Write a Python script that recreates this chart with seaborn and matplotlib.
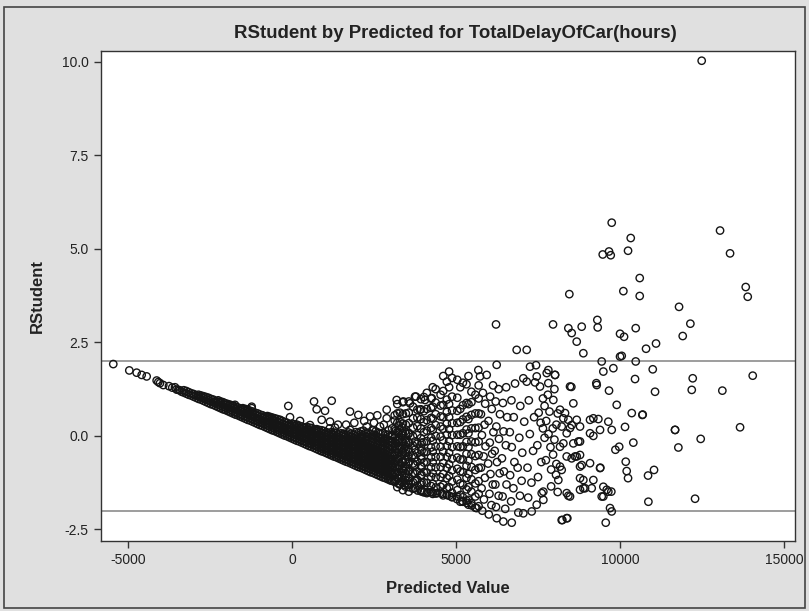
import matplotlib
matplotlib.use("Agg")
import matplotlib.pyplot as plt
import seaborn as sns
import pandas as pd
from matplotlib.patches import Rectangle

# ---------------- data ----------------
# sparse left tail
tail_x = [-5449, -4960, -4736, -4583, -4431, -4126, -4075, -4025, -3924, -3750,
          -3650, -3567, -3520, -3467, -3420, -3363]
tail_y = [1.92, 1.75, 1.69, 1.63, 1.59, 1.48, 1.44, 1.41, 1.36, 1.33,
          1.29, 1.30, 1.24, 1.23, 1.22, 1.18]

# dense diagonal band: column x -> list of RStudent values
core_cols = [-3300, -3150, -3000, -2850, -2700, -2550, -2400, -2250, -2100, -1950,
             -1800, -1650, -1500, -1350, -1200, -1050, -900, -750, -600, -450,
             -300, -150, 0, 150, 300, 450, 600, 750, 900, 1050,
             1200, 1350, 1500, 1650, 1800, 1950, 2100, 2250, 2400, 2550,
             2700, 2850, 3000]
core_vals = [
    [1.16, 1.22], [1.10, 1.17], [1.05, 1.12], [0.99, 1.06, 1.10], [0.94, 1.01, 1.06],
    [0.88, 0.95, 1.02], [0.83, 0.90, 0.97], [0.77, 0.84, 0.91, 0.95], [0.71, 0.78, 0.85, 0.90],
    [0.66, 0.73, 0.80, 0.85], [0.60, 0.67, 0.74, 0.81], [0.55, 0.62, 0.69, 0.76],
    [0.49, 0.56, 0.63, 0.70, 0.74], [0.43, 0.50, 0.57, 0.64, 0.70], [0.38, 0.45, 0.52, 0.59, 0.65],
    [0.32, 0.39, 0.46, 0.53, 0.60], [0.27, 0.34, 0.41, 0.48, 0.55],
    [0.21, 0.28, 0.35, 0.42, 0.49, 0.53], [0.15, 0.22, 0.29, 0.36, 0.43, 0.49],
    [0.10, 0.17, 0.24, 0.31, 0.38, 0.45], [0.04, 0.11, 0.18, 0.25, 0.32, 0.40],
    [-0.01, 0.06, 0.13, 0.20, 0.27, 0.35],
    [-0.07, 0.00, 0.07, 0.14, 0.21, 0.28, 0.33],
    [-0.13, -0.06, 0.01, 0.08, 0.15, 0.22, 0.30],
    [-0.18, -0.11, -0.04, 0.03, 0.10, 0.17, 0.25],
    [-0.24, -0.17, -0.10, -0.03, 0.04, 0.11, 0.18, 0.24],
    [-0.29, -0.22, -0.15, -0.08, -0.01, 0.06, 0.13, 0.21],
    [-0.35, -0.28, -0.21, -0.14, -0.07, 0.00, 0.07, 0.14, 0.18],
    [-0.41, -0.34, -0.27, -0.20, -0.13, -0.06, 0.01, 0.08, 0.15],
    [-0.46, -0.39, -0.32, -0.25, -0.18, -0.11, -0.04, 0.03, 0.10],
    [-0.52, -0.45, -0.38, -0.31, -0.24, -0.17, -0.10, -0.03, 0.04, 0.10],
    [-0.57, -0.50, -0.43, -0.36, -0.29, -0.22, -0.15, -0.08, -0.01, 0.08],
    [-0.63, -0.56, -0.49, -0.42, -0.35, -0.28, -0.21, -0.14, -0.07, 0.00, 0.07],
    [-0.69, -0.62, -0.55, -0.48, -0.41, -0.34, -0.27, -0.20, -0.13, -0.06, 0.04],
    [-0.74, -0.67, -0.60, -0.53, -0.46, -0.39, -0.32, -0.25, -0.18, -0.11, -0.03, 0.06],
    [-0.80, -0.73, -0.66, -0.59, -0.52, -0.45, -0.38, -0.31, -0.24, -0.17, -0.10, -0.01, 0.10],
    [-0.85, -0.78, -0.71, -0.64, -0.57, -0.50, -0.43, -0.36, -0.29, -0.22, -0.15, -0.06, 0.04, 0.12],
    [-0.91, -0.84, -0.77, -0.70, -0.63, -0.56, -0.49, -0.42, -0.35, -0.28, -0.20, -0.11, -0.02, 0.09],
    [-0.97, -0.89, -0.81, -0.73, -0.65, -0.57, -0.49, -0.41, -0.33, -0.25, -0.16, -0.06, 0.05],
    [-1.02, -0.94, -0.86, -0.78, -0.70, -0.62, -0.54, -0.46, -0.38, -0.30, -0.21, -0.11, 0.00, 0.12],
    [-1.08, -1.00, -0.92, -0.84, -0.76, -0.68, -0.60, -0.52, -0.44, -0.36, -0.27, -0.17, -0.06, 0.06],
    [-1.13, -1.05, -0.97, -0.89, -0.81, -0.73, -0.65, -0.57, -0.49, -0.40, -0.30, -0.19, -0.08, 0.04],
    [-1.19, -1.11, -1.03, -0.95, -0.87, -0.79, -0.71, -0.63, -0.55, -0.46, -0.36, -0.25, -0.13, 0.00],
]

# band points lying between the columns above
core2_cols = [-3225, -3075, -2925, -2775, -2625, -2475, -2325, -2175, -2025, -1875,
              -1725, -1575, -1425, -1275, -1125, -975, -825, -675, -525, -375,
              -225, -75, 75, 225, 375, 525, 675, 825, 975, 1125,
              1275, 1425, 1575, 1725, 1875, 2025, 2175, 2325, 2475, 2625,
              2775, 2925]
core2_vals = [
    [1.13, 1.20], [1.08, 1.14], [1.02, 1.09], [0.97, 1.04, 1.08], [0.91, 0.98, 1.04],
    [0.85, 0.92, 0.99], [0.80, 0.87, 0.93], [0.74, 0.81, 0.88, 0.92], [0.69, 0.76, 0.83, 0.87],
    [0.63, 0.70, 0.77, 0.83], [0.57, 0.64, 0.71, 0.78], [0.52, 0.59, 0.66, 0.73],
    [0.46, 0.53, 0.60, 0.67, 0.72], [0.41, 0.48, 0.55, 0.62, 0.67], [0.35, 0.42, 0.49, 0.56, 0.62],
    [0.29, 0.36, 0.43, 0.50, 0.57], [0.24, 0.31, 0.38, 0.45, 0.52],
    [0.18, 0.25, 0.32, 0.39, 0.46, 0.51], [0.13, 0.20, 0.27, 0.34, 0.41, 0.47],
    [0.07, 0.14, 0.21, 0.28, 0.35, 0.42], [0.01, 0.08, 0.15, 0.22, 0.29, 0.37],
    [-0.04, 0.03, 0.10, 0.17, 0.24, 0.31],
    [-0.10, -0.03, 0.04, 0.11, 0.18, 0.25, 0.31],
    [-0.15, -0.08, -0.01, 0.06, 0.13, 0.20, 0.27],
    [-0.21, -0.14, -0.07, 0.00, 0.07, 0.14, 0.21],
    [-0.27, -0.20, -0.13, -0.06, 0.01, 0.08, 0.15, 0.22],
    [-0.32, -0.25, -0.18, -0.11, -0.04, 0.03, 0.10, 0.17],
    [-0.38, -0.31, -0.24, -0.17, -0.10, -0.03, 0.04, 0.11, 0.16],
    [-0.43, -0.36, -0.29, -0.22, -0.15, -0.08, -0.01, 0.06, 0.13],
    [-0.49, -0.42, -0.35, -0.28, -0.21, -0.14, -0.07, 0.00, 0.07],
    [-0.55, -0.48, -0.41, -0.34, -0.27, -0.20, -0.13, -0.06, 0.01, 0.09],
    [-0.60, -0.53, -0.46, -0.39, -0.32, -0.25, -0.18, -0.11, -0.04, 0.04],
    [-0.66, -0.59, -0.52, -0.45, -0.38, -0.31, -0.24, -0.17, -0.10, -0.03, 0.06],
    [-0.71, -0.64, -0.57, -0.50, -0.43, -0.36, -0.29, -0.22, -0.15, -0.08, 0.01, 0.09],
    [-0.77, -0.70, -0.63, -0.56, -0.49, -0.42, -0.35, -0.28, -0.21, -0.14, -0.06, 0.04],
    [-0.83, -0.76, -0.69, -0.62, -0.55, -0.48, -0.41, -0.34, -0.27, -0.20, -0.12, -0.03, 0.08],
    [-0.88, -0.81, -0.74, -0.67, -0.60, -0.53, -0.46, -0.39, -0.32, -0.25, -0.17, -0.08, 0.02, 0.14],
    [-0.94, -0.86, -0.78, -0.70, -0.62, -0.54, -0.46, -0.38, -0.30, -0.22, -0.13, -0.03, 0.08],
    [-0.99, -0.91, -0.83, -0.75, -0.67, -0.59, -0.51, -0.43, -0.35, -0.27, -0.18, -0.08, 0.03, 0.15],
    [-1.05, -0.97, -0.89, -0.81, -0.73, -0.65, -0.57, -0.49, -0.41, -0.33, -0.24, -0.14, -0.03, 0.09],
    [-1.11, -1.03, -0.95, -0.87, -0.79, -0.71, -0.63, -0.55, -0.47, -0.38, -0.28, -0.17, -0.05, 0.08],
    [-1.16, -1.08, -1.00, -0.92, -0.84, -0.76, -0.68, -0.60, -0.52, -0.43, -0.33, -0.22, -0.10, 0.03],
]

# where the band opens into the fan
trans_cols = [3050, 3150, 3250, 3350, 3450, 3550, 3750, 3950]
trans_vals = [
    [-1.20, -1.06, -0.92, -0.77, -0.62, -0.47, -0.31, -0.15, 0.02, 0.20],
    [-1.17, -1.00, -0.84, -0.68, -0.52, -0.36, -0.20, -0.04, 0.13],
    [-1.28, -1.13, -0.96, -0.79, -0.62, -0.45, -0.28, -0.11, 0.08, 0.28],
    [-1.24, -1.06, -0.88, -0.70, -0.52, -0.34, -0.16, 0.03, 0.22],
    [-1.35, -1.18, -1.00, -0.82, -0.64, -0.46, -0.28, -0.09, 0.12],
    [-1.30, -1.12, -0.93, -0.74, -0.55, -0.36, -0.16, 0.05],
    [-1.40, -1.20, -1.00, -0.79, -0.58, -0.37, -0.15],
    [-1.45, -1.25, -1.04, -0.83, -0.62, -0.40, -0.18],
]

# lower edge of the fan
edge_x = [3120, 3280, 3420, 3560, 3690, 3830, 3980, 4130, 4280, 4430,
          4580, 4730, 4880, 5030, 5180, 5330, 5480, 5630]
edge_y = [-1.21, -1.27, -1.31, -1.37, -1.41, -1.46, -1.49, -1.50, -1.51, -1.53,
          -1.55, -1.58, -1.63, -1.69, -1.74, -1.79, -1.86, -1.93]

# loose points above the band
fuzz_x = [-1789, -1738, -1229, -1229, -619, -366, -113, -61, 671, 753,
          1006, 1210, 905, 1159, 549, 244, 1311, 1768, 2022, 2378,
          2887, 2887, 1768, 1565, 2276, 2124, 2683, 3191, 3394, 3750,
          3598, 3903, 1650, 1900, 2200, 2500, 2800, 2600, 1400, 1150,
          2450, 2950, 4055, 4260, 3781]
fuzz_y = [0.80, 0.83, 0.78, 0.74, 0.47, 0.43, 0.80, 0.50, 0.92, 0.71,
          0.67, 0.94, 0.43, 0.38, 0.29, 0.40, 0.22, 0.65, 0.56, 0.52,
          0.70, 0.47, 0.16, 0.03, 0.25, -0.02, 0.25, 0.96, 0.92, 1.05,
          0.87, 0.70, 0.30, 0.35, 0.40, 0.35, 0.30, 0.55, 0.30, 0.20,
          0.15, 0.15, 0.96, 1.01, 1.05]

# fan of residuals, dense part (one list of values per x position)
fan_cols = [3130, 3470, 3290, 3820, 3210, 3690, 3380, 3930, 3560, 4240,
            4020, 4530, 4110, 4380, 4290, 4720, 4610, 5040, 4790, 4880,
            5320, 5130, 5470, 5210, 5690, 5380, 5590]
fan_vals = [
    [-1.23, -1.01, -0.74, -0.52, -0.27, -0.05, 0.18, 0.41, 0.55],
    [-1.26, -1.11, -0.88, -0.63, -0.40, -0.16, 0.06, 0.30, 0.60],
    [-1.30, -1.05, -0.81, -0.57, -0.33, -0.10, 0.14, 0.37, 0.62],
    [-1.33, -1.17, -0.95, -0.69, -0.46, -0.21, 0.02, 0.26, 0.49, 0.70],
    [-1.37, -1.12, -0.87, -0.60, -0.36, -0.13, 0.11, 0.35, 0.60, 0.85],
    [-1.41, -1.24, -0.99, -0.74, -0.51, -0.26, -0.01, 0.22, 0.47, 0.78],
    [-1.45, -1.19, -0.93, -0.68, -0.42, -0.18, 0.07, 0.33, 0.58, 0.90],
    [-1.48, -1.30, -1.06, -0.80, -0.55, -0.31, -0.06, 0.20, 0.45, 0.71, 0.98],
    [-1.49, -1.20, -0.95, -0.69, -0.43, -0.19, 0.08, 0.34, 0.62, 0.92],
    [-1.50, -1.34, -1.09, -0.84, -0.57, -0.31, -0.05, 0.21, 0.48, 0.75, 1.00],
    [-1.51, -1.24, -0.97, -0.71, -0.44, -0.17, 0.10, 0.37, 0.66, 1.04],
    [-1.52, -1.36, -1.10, -0.83, -0.56, -0.29, -0.02, 0.25, 0.52, 0.81, 1.10],
    [-1.53, -1.26, -0.98, -0.70, -0.42, -0.14, 0.14, 0.42, 0.72, 1.15],
    [-1.54, -1.38, -1.11, -0.84, -0.56, -0.28, 0.00, 0.29, 0.58, 0.89, 1.25],
    [-1.55, -1.28, -1.00, -0.71, -0.42, -0.13, 0.16, 0.46, 0.78, 1.30],
    [-1.57, -1.40, -1.13, -0.85, -0.56, -0.27, 0.03, 0.33, 0.64, 0.97, 1.45],
    [-1.59, -1.31, -1.02, -0.72, -0.42, -0.12, 0.19, 0.50, 0.83, 1.20, 1.60],
    [-1.62, -1.45, -1.17, -0.88, -0.58, -0.28, 0.03, 0.35, 0.67, 1.02, 1.50],
    [-1.60, -1.37, -1.07, -0.76, -0.45, -0.14, 0.18, 0.50, 0.85, 1.30, 1.72],
    [-1.64, -1.52, -1.22, -0.92, -0.61, -0.30, 0.02, 0.34, 0.68, 1.05, 1.55],
    [-1.73, -1.43, -1.12, -0.80, -0.48, -0.16, 0.17, 0.51, 0.88, 1.38],
    [-1.76, -1.58, -1.27, -0.95, -0.63, -0.30, 0.03, 0.37, 0.72, 1.30],
    [-1.80, -1.49, -1.16, -0.83, -0.49, -0.15, 0.20, 0.56, 0.90, 1.18],
    [-1.76, -1.64, -1.31, -0.97, -0.63, -0.28, 0.07, 0.44, 0.82, 1.42],
    [-1.88, -1.55, -1.21, -0.86, -0.51, -0.15, 0.22, 0.60, 1.00, 1.35],
    [-1.84, -1.71, -1.37, -1.02, -0.66, -0.30, 0.07, 0.45, 0.85, 1.60],
    [-1.92, -1.62, -1.27, -0.91, -0.54, -0.17, 0.21, 0.60, 1.10],
]

# individual points, right part of the chart
pts_x = [5800, 5850, 5780, 5880, 5760, 5840, 5900, 5790, 5870, 5760, 5890, 5820, 5732, 5681, 5936,
         6000, 6080, 6020, 6120, 6050, 5980, 6100, 6030, 6140, 5990, 6090, 6040, 6130,
         6241, 6220, 6300, 6200, 6330, 6250, 6180, 6310, 6230, 6340, 6210, 6300, 6240, 6220,
         6443, 6500, 6420, 6540, 6460, 6400, 6520, 6450, 6560, 6430, 6530,
         6699, 6680, 6750, 6650, 6780, 6700, 6640, 6760, 6690, 6800,
         6900, 7052, 6950, 7000, 6880, 7020, 6930, 7080, 6960, 7052, 7156, 6850, 7156,
         7308, 7200, 7300, 7180, 7350, 7250, 7380, 7220, 7257, 7409,
         7461, 7662, 7500, 7600, 7480, 7650, 7520, 7461, 7561, 7613, 7440,
         7700, 7750, 7820, 7880, 7740, 7900, 7960, 8000, 8060, 8100, 7850, 7700, 7650, 7800,
         8000, 7900, 8100, 8060, 7950, 7580, 7766, 7815, 7815, 7967, 8019, 8049, 8120, 7663,
         8171, 8171, 8171, 8222, 8222, 8222, 8273, 8273, 8324, 8375, 8375, 8375, 8375,
         8425, 8425, 8476, 8476, 8476, 8527, 8527, 8577, 8577, 8629, 8680, 8680, 8730,
         8781, 8781, 8781, 8781, 8781, 8781, 8832, 8882, 8882, 8934, 9086, 9086, 9086,
         9137, 9187, 9187, 9187, 9290, 9340, 9391, 9391, 9442, 9492, 9492, 9595, 9644,
         9644, 9696, 9747, 9565, 9747, 9900, 9860, 9975, 10406, 10153, 10358, 10681,
         10175, 10204, 10245, 9400, 10855, 11037, 10865, 9735, 8242, 8394, 11678, 11779,
         12460, 12288, 13660, 8516, 9278, 9665, 11068, 10458, 10998, 12187, 13120,
         12217, 14046, 9442, 9797, 10001, 10052, 9492, 10479, 10794, 11098, 8882, 8019,
         7958, 8455, 8425, 8527, 8680, 8832, 9309, 9320, 10001, 10123, 10479,
         9747, 10327, 9473, 9665, 9717, 10245, 10601, 10102, 10601, 11800, 12145, 11912,
         12490, 13050, 13355, 13833, 13894, 10692, 11678]
pts_y = [-2.00, -1.70, -1.40, -1.12, -0.85, -0.55, -0.28, 0.02, 0.30, 0.58, 0.86, 1.15, 1.59, 1.76, 1.63,
         -2.10, -1.85, -1.55, -1.30, -1.02, -0.74, -0.48, -0.18, 0.10, 0.40, 0.72, 1.05, 1.35,
         -2.20, -1.90, -1.60, -1.30, -1.00, -0.70, -0.40, -0.08, 0.25, 0.58, 0.92, 1.25, 1.90, 2.98,
         -2.29, -1.95, -1.62, -1.30, -0.95, -0.60, -0.25, 0.12, 0.50, 0.88, 1.30,
         -2.32, -1.75, -1.40, -1.05, -0.70, -0.30, 0.10, 0.50, 0.95, 1.40,
         -2.05, -2.07, -1.60, -1.20, -0.85, -0.45, -0.05, 0.38, 0.80, 1.54, 1.45, 2.30, 2.30,
         -2.02, -1.65, -1.25, -0.85, -0.40, 0.05, 0.50, 0.95, 1.85, 1.43,
         -1.84, -1.49, -1.10, -0.70, -0.25, 0.20, 0.62, 1.59, 1.32, -1.53, 1.89,
         0.80, 0.40, 0.05, -0.30, -0.65, -0.90, -0.50, -0.10, 0.30, 0.60, 0.65, -0.05, 1.00, 1.10,
         1.25, -1.35, -1.50, -0.75, 0.20, 0.35, 1.68, 1.76, 1.41, 0.96, 1.63, -1.04, -1.18, -1.71,
         0.70, -0.29, -0.82, 0.25, -0.91, -2.25, 0.47, -0.20, 0.61, 0.07, -0.55, -1.53, -2.20,
         0.43, -1.60, 0.21, 1.32, -1.62, 0.29, -0.60, 0.87, -0.20, -0.55, 0.43, -0.55, -0.15,
         0.25, -0.15, -0.51, -0.82, -1.13, -1.44, -0.78, -1.18, -1.40, -1.40, 0.43, 0.07, -0.73,
         -1.40, 0.47, 0.00, -1.18, 1.36, 0.45, 0.16, -0.86, -1.62, -1.36, -1.62, -1.44, -1.49,
         0.38, -1.93, -2.02, -2.32, 0.16, 0.83, -0.37, -0.29, -0.18, 0.24, 0.61, 0.56,
         -0.69, -0.94, -1.13, -0.85, -1.06, -0.91, -1.76, -1.49, -2.25, -2.20, 0.16, -0.31,
         -0.08, -1.68, 0.23, 1.31, 1.41, 1.21, 1.18, 1.52, 1.78, 1.23, 1.21,
         1.54, 1.61, 1.99, 1.81, 2.12, 2.14, 1.72, 1.99, 2.33, 2.47, 2.21, 1.63,
         2.98, 3.79, 2.88, 2.75, 2.52, 2.92, 3.10, 2.90, 2.73, 2.65, 2.88,
         5.70, 5.29, 4.85, 4.93, 4.83, 4.95, 4.22, 3.87, 3.74, 3.45, 3.00, 2.67,
         10.03, 5.49, 4.88, 3.98, 3.72, 0.57, 0.16]

ref_levels = [-2.0, 2.0]
x_ticks = [-5000, 0, 5000, 10000, 15000]
y_ticks = [-2.5, 0.0, 2.5, 5.0, 7.5, 10.0]
y_ticklabels = ["-2.5", "0.0", "2.5", "5.0", "7.5", "10.0"]
title = "RStudent by Predicted for TotalDelayOfCar(hours)"
xlabel = "Predicted Value"
ylabel = "RStudent"

# ---------------- assemble table ----------------
xs, ys = [], []
xs += tail_x; ys += tail_y
for cols, vals_list in ((core_cols, core_vals), (core2_cols, core2_vals),
                        (trans_cols, trans_vals), (fan_cols, fan_vals)):
    for cx, vals in zip(cols, vals_list):
        xs += [cx] * len(vals); ys += vals
xs += edge_x; ys += edge_y
xs += fuzz_x; ys += fuzz_y
xs += pts_x; ys += pts_y
df = pd.DataFrame({"pred": xs, "rstudent": ys})

# ---------------- plot ----------------
sns.set_style("white")
plt.rcParams["font.family"] = ["Liberation Sans", "DejaVu Sans"]

BG = "#e0e0e0"
fig = plt.figure(figsize=(8.09, 6.11), dpi=100, facecolor=BG)
ax = fig.add_axes([101 / 809, 1 - 541 / 611, (795 - 101) / 809, (541 - 51) / 611])
ax.set_facecolor("white")

for lv in ref_levels:
    ax.axhline(lv, color="#8c8c8c", lw=1.2, zorder=1)

sns.scatterplot(data=df, x="pred", y="rstudent", ax=ax, marker="o", s=28,
                color="#151515", linewidth=1.0, zorder=3, legend=False)
pc = ax.collections[-1]
pc.set_facecolor("none")
pc.set_edgecolor("#151515")

ax.set_xlim(-5823, 15335)
ax.set_ylim(-2.81, 10.29)
ax.set_xticks(x_ticks)
ax.set_xticklabels([str(t) for t in x_ticks])
ax.set_yticks(y_ticks)
ax.set_yticklabels(y_ticklabels)
ax.tick_params(axis="both", direction="out", length=5, width=1, color="#333333",
               labelsize=10, labelcolor="#222222", pad=4, bottom=True, left=True)
for s in ax.spines.values():
    s.set_color("#333333")
    s.set_linewidth(1.0)

ax.set_xlabel(xlabel, fontsize=12, fontweight="bold", color="#222222", labelpad=10)
ax.set_ylabel(ylabel, fontsize=12, fontweight="bold", color="#222222", labelpad=12)
fig.text(0.563, 1 - 33 / 611, title, ha="center", va="center", fontsize=13.4,
         fontweight="bold", color="#222222")

# outer frame of the graph
fig.patches.append(Rectangle((4 / 809, 3 / 611), 801 / 809, 601 / 611,
                             transform=fig.transFigure, fill=False,
                             edgecolor="#444444", lw=1.2))

fig.savefig("out.png", dpi=100, facecolor=BG)
